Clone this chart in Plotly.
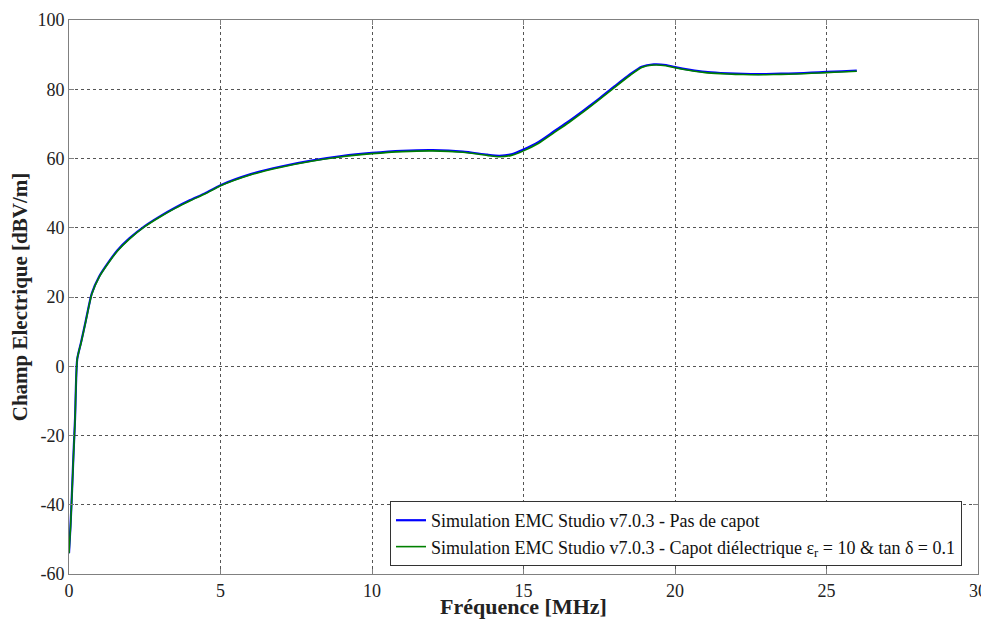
import plotly.graph_objects as go

freq = [0.0, 0.05, 0.1, 0.15, 0.2, 0.27, 0.4, 0.55, 0.75, 1.0, 1.3, 1.6, 2.0, 2.5, 3.0, 3.5, 4.0, 4.5, 5.0,
        6.0, 7.0, 8.0, 9.0, 10.0, 11.0, 12.0, 13.0, 13.8, 14.2, 14.6, 15.0, 15.5, 16.0, 16.5, 17.0, 17.5,
        18.0, 18.5, 18.9, 19.3, 19.7, 20.0, 20.5, 21.0, 21.5, 22.0, 22.5, 23.0, 23.5, 24.0, 24.5, 25.0, 25.5, 26.0]
blue = [-54, -46, -36, -25, -15, 2, 7, 13, 21, 26, 30, 33.5, 37, 40.5, 43.3, 45.8, 48, 50, 52.3,
        55.5, 57.7, 59.4, 60.7, 61.6, 62.2, 62.4, 62.0, 61.1, 60.8, 61.2, 62.6, 64.8, 67.8, 70.8, 74.0, 77.3,
        80.8, 84.2, 86.5, 87.2, 87.0, 86.4, 85.6, 85.0, 84.7, 84.5, 84.4, 84.4, 84.5, 84.6, 84.8, 85.0, 85.2, 85.4]
green = [-54, -46.5, -36.5, -25.5, -15.5, 2, 6.8, 12.8, 20.8, 25.8, 29.8, 33.3, 36.8, 40.3, 43.1, 45.6, 47.8, 49.8, 52.1,
         55.3, 57.5, 59.2, 60.5, 61.4, 62.0, 62.2, 61.8, 60.9, 60.5, 60.9, 62.2, 64.4, 67.4, 70.4, 73.6, 77.0,
         80.5, 83.9, 86.3, 87.0, 86.8, 86.2, 85.4, 84.8, 84.5, 84.3, 84.2, 84.2, 84.3, 84.4, 84.6, 84.8, 85.0, 85.2]

x_ticks = [0, 5, 10, 15, 20, 25, 30]
y_ticks = [-60, -40, -20, 0, 20, 40, 60, 80, 100]

name_blue = "Simulation EMC Studio v7.0.3 - Pas de capot"
name_green = "Simulation EMC Studio v7.0.3 - Capot diélectrique ε<sub>r</sub> = 10 & tan δ = 0.1"

fig = go.Figure()
fig.add_trace(go.Scatter(x=freq, y=blue, mode="lines", name=name_blue,
                         line=dict(color="#0000ff", width=2.2, shape="spline", smoothing=0.6)))
fig.add_trace(go.Scatter(x=freq, y=green, mode="lines", name=name_green,
                         line=dict(color="#008000", width=1.6, shape="spline", smoothing=0.6)))

font_family = "Liberation Serif"
axis_common = dict(
    showline=True, linecolor="#808080", linewidth=1, mirror="ticks",
    ticks="inside", ticklen=5, tickcolor="#808080",
    showgrid=True, gridcolor="#555555", griddash="dot", gridwidth=1,
    zeroline=False, automargin=False,
    tickfont=dict(family=font_family, size=18, color="#222222"),
)

# page body has an 8px default margin, so the figure is sized to fit the 989x619 window
fig.update_layout(
    width=981, height=611,
    margin=dict(l=61, r=11, t=12, b=45),
    paper_bgcolor="white", plot_bgcolor="white",
    font=dict(family=font_family, color="#222222"),
    xaxis=dict(range=[0, 30], tickvals=x_ticks, ticktext=[str(v) for v in x_ticks],
               title=dict(text="<b>Fréquence [MHz]</b>", font=dict(family=font_family, size=22), standoff=2),
               **axis_common),
    yaxis=dict(range=[-60, 100], tickvals=y_ticks, ticktext=[str(v) for v in y_ticks],
               title=dict(text="<b>Champ Electrique [dBV/m]</b>", font=dict(family=font_family, size=21), standoff=4),
               **axis_common),
    legend=dict(x=0.9824, y=0.0144, xanchor="right", yanchor="bottom",
                bgcolor="white", bordercolor="#333333", borderwidth=1,
                font=dict(family=font_family, size=18, color="#111111"),
                tracegroupgap=0, itemwidth=30),
    showlegend=True,
)

fig.write_html("out.html")
